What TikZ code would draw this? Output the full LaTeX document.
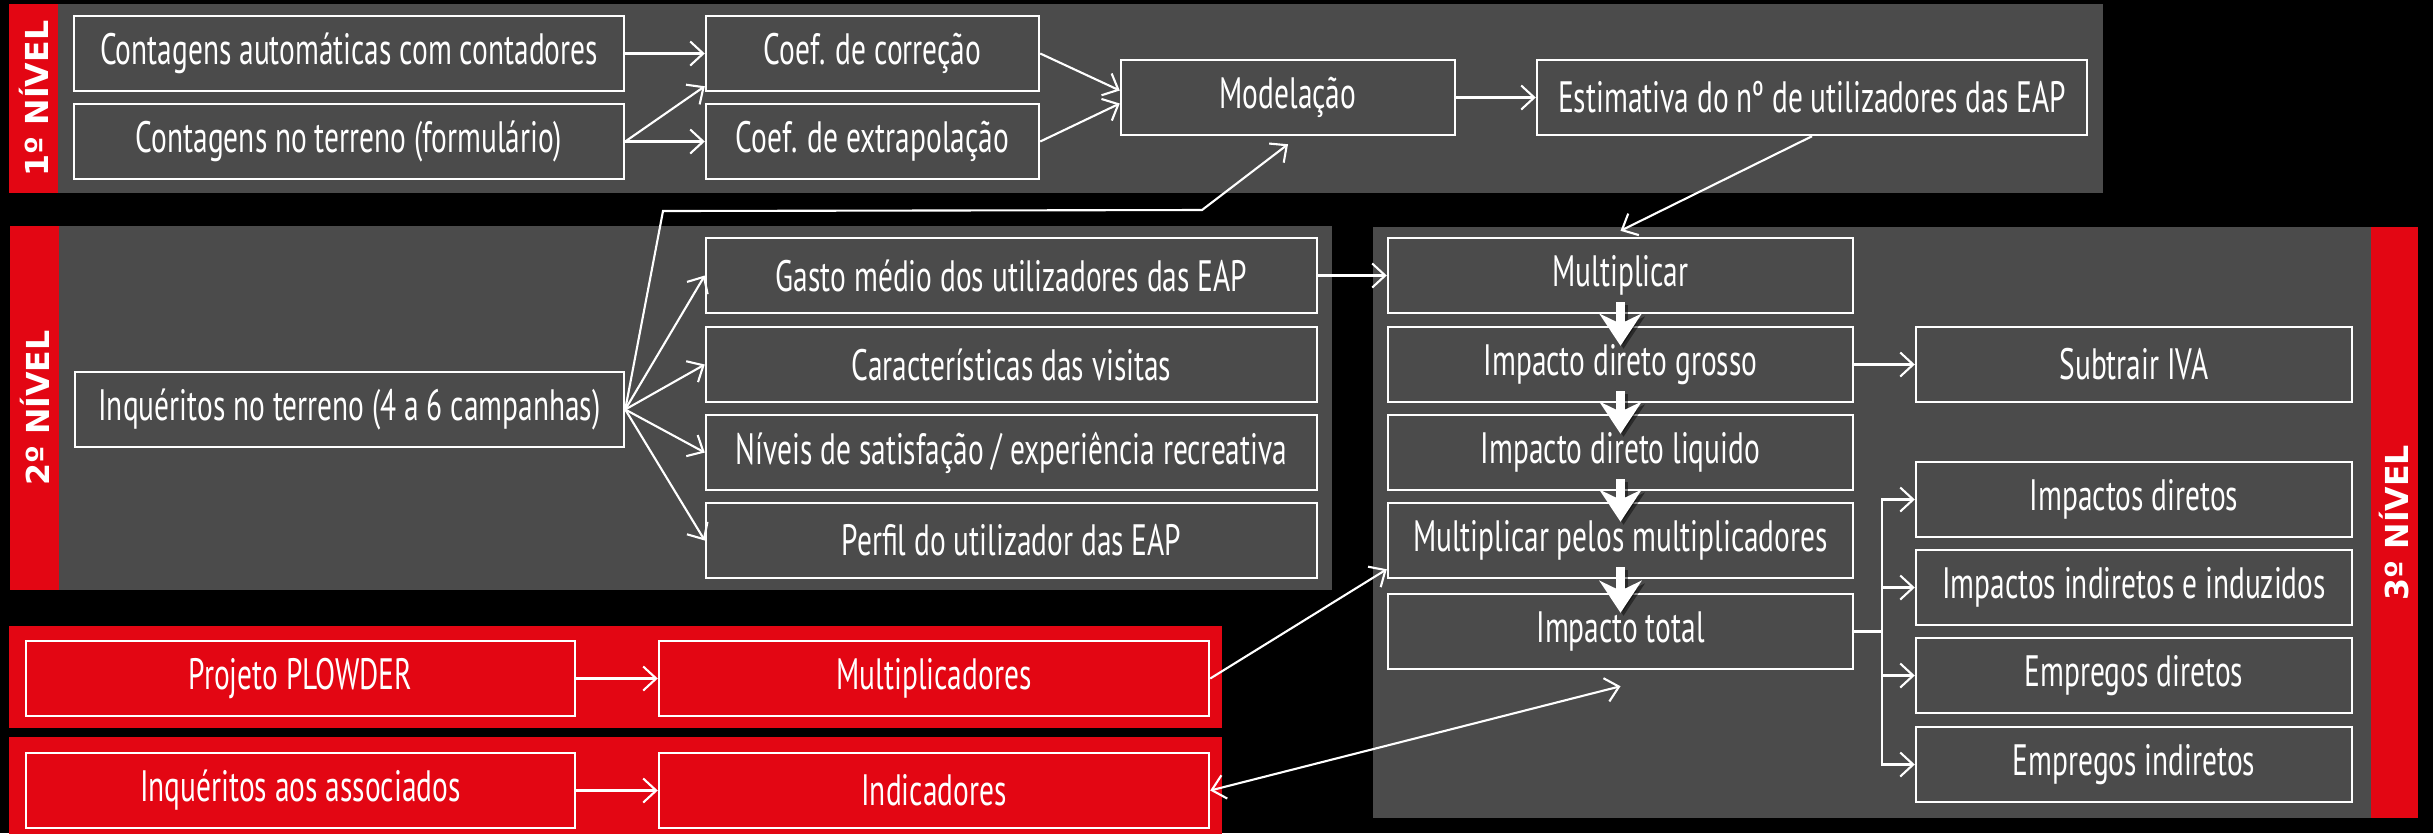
\documentclass[tikz,border=0pt]{standalone}
\usepackage{fontspec}
\setmainfont{PT Sans}[FakeStretch=0.67]
\newfontfamily\levelfont{DejaVu Sans}
\usepackage{tikz}
\usetikzlibrary{calc}
\usetikzlibrary{arrows.meta}

\definecolor{panelgrey}{RGB}{75,75,75}
\definecolor{panelred}{RGB}{227,6,19}

\begin{document}
\begin{tikzpicture}[
        box/.style={
            rectangle,
            draw=white,
            line width=0.7pt,
            text=white,
            minimum height=0.75cm,
            inner sep=0pt,
            font=\fontsize{12.5}{14}\selectfont,
        },
        level/.style={
            text=white,
            rotate=90,
            font=\levelfont\bfseries\fontsize{9}{10}\selectfont,
        },
        link/.style={
            draw=white,
            line width=0.6pt,
        },
        bigarrow/.style={
            draw=white,
            line width=2.3pt,
            -{Stealth[length=3.2mm,width=4.2mm,inset=1mm]},
        },
        >={Straight Barb[length=1.3mm,width=2.4mm]},
    ]

    \fill [black] (0,0) rectangle (24.33,-8.33);
    \useasboundingbox (0,0) rectangle (24.33,-8.33);

    \fill [panelgrey] (0.09,-0.04) rectangle (21.03,-1.93);
    \fill [panelred] (0.09,-0.04) rectangle (0.58,-1.93);
    \fill [panelgrey] (0.10,-2.26) rectangle (13.32,-5.90);
    \fill [panelred] (0.10,-2.26) rectangle (0.59,-5.90);
    \fill [panelgrey] (13.73,-2.27) rectangle (24.18,-8.18);
    \fill [panelred] (23.71,-2.27) rectangle (24.18,-8.18);
    \fill [panelred] (0.09,-6.26) rectangle (12.22,-7.28);
    \fill [panelred] (0.09,-7.37) rectangle (12.22,-8.40);

    \node (lvl1) at (0.335,-0.985) [level] {1º NÍVEL};
    \node (lvl2) at (0.345,-4.08) [level] {2º NÍVEL};
    \node (lvl3) at (23.945,-5.225) [level] {3º NÍVEL};

    \node (cont1) at (3.49,-0.535) [box, minimum width=5.50cm] {Contagens automáticas com contadores};
    \node (cont2) at (3.49,-1.415) [box, minimum width=5.50cm] {Contagens no terreno (formulário)};
    \node (coef1) at (8.725,-0.535) [box, minimum width=3.33cm] {Coef. de correção};
    \node (coef2) at (8.725,-1.415) [box, minimum width=3.33cm] {Coef. de extrapolação};
    \node (model) at (12.88,-0.975) [box, minimum width=3.34cm] {Modelação};
    \node (estim) at (18.12,-0.975) [box, minimum width=5.50cm] {Estimativa do nº de utilizadores das EAP};

    \node (inq) at (3.495,-4.095) [box, minimum width=5.49cm] {Inquéritos no terreno (4 a 6 campanhas)};
    \node (gasto) at (10.115,-2.755) [box, minimum width=6.11cm] {Gasto médio dos utilizadores das EAP};
    \node (carac) at (10.115,-3.645) [box, minimum width=6.11cm] {Características das visitas};
    \node (niveis) at (10.115,-4.525) [box, minimum width=6.11cm] {Níveis de satisfação / experiência recreativa};
    \node (perfil) at (10.115,-5.405) [box, minimum width=6.11cm] {Perfil do utilizador das EAP};

    \node (mult) at (16.205,-2.755) [box, minimum width=4.65cm] {Multiplicar};
    \node (idg) at (16.205,-3.645) [box, minimum width=4.65cm] {Impacto direto grosso};
    \node (idl) at (16.205,-4.525) [box, minimum width=4.65cm] {Impacto direto liquido};
    \node (mpm) at (16.205,-5.405) [box, minimum width=4.65cm] {Multiplicar pelos multiplicadores};
    \node (total) at (16.205,-6.315) [box, minimum width=4.65cm] {Impacto total};
    \node (iva) at (21.34,-3.645) [box, minimum width=4.36cm] {Subtrair IVA};
    \node (impd) at (21.34,-4.995) [box, minimum width=4.36cm] {Impactos diretos};
    \node (impi) at (21.34,-5.875) [box, minimum width=4.36cm] {Impactos indiretos e induzidos};
    \node (empd) at (21.34,-6.755) [box, minimum width=4.36cm] {Empregos diretos};
    \node (empi) at (21.34,-7.645) [box, minimum width=4.36cm] {Empregos indiretos};

    \node (plowder) at (3.005,-6.785) [box, minimum width=5.49cm] {Projeto PLOWDER};
    \node (multip) at (9.34,-6.785) [box, minimum width=5.50cm] {Multiplicadores};
    \node (assoc) at (3.005,-7.905) [box, minimum width=5.49cm] {Inquéritos aos associados};
    \node (indic) at (9.34,-7.905) [box, minimum width=5.50cm] {Indicadores};

    \coordinate (bendA) at (6.63,-2.11);
    \coordinate (bendB) at (12.02,-2.10);
    \coordinate (split) at (18.82,-6.315);

    \draw [link, ->] (cont1) -- (coef1);
    \draw [link, ->] (cont2.east) -- ([yshift=0.06cm]coef1.south west);
    \draw [link, ->] (cont2) -- (coef2);
    \draw [link, ->] (coef1.east) -- ([yshift=0.07cm]model.west);
    \draw [link, ->] (coef2.east) -- ([yshift=-0.06cm]model.west);
    \draw [link, ->] (model) -- (estim);
    \draw [link, ->] (estim.south) -- ([yshift=0.06cm]mult.north);

    \draw [link, ->] (inq.east) -- (gasto.west);
    \draw [link, ->] (inq.east) -- (carac.west);
    \draw [link, ->] (inq.east) -- (niveis.west);
    \draw [link, ->] (inq.east) -- (perfil.west);
    \draw [link, ->] (inq.east) -- (bendA) -- (bendB) -- ([yshift=-0.08cm]model.south);
    \draw [link, ->] (gasto) -- (mult);

    \foreach \a/\b in {mult/idg, idg/idl, idl/mpm, mpm/total} {
        \draw [bigarrow, draw=black, opacity=0.45, transform canvas={shift={(0.03,-0.03)}}]
            ([yshift=0.12cm]\a.south) -- ([yshift=-0.2cm]\b.north);
        \draw [bigarrow] ([yshift=0.12cm]\a.south) -- ([yshift=-0.2cm]\b.north);
    }
    \draw [link, ->] (idg) -- (iva);
    \draw [link] (total.east) -- (split);
    \foreach \t in {impd, impi, empd, empi} {
        \draw [link, ->] (split) |- (\t.west);
    }

    \draw [link, ->] (plowder) -- (multip);
    \draw [link, ->] (assoc) -- (indic);
    \draw [link, ->] (multip.east) -- ([yshift=0.1cm]mpm.south west);
    \draw [link, <->] (indic.east) -- ([yshift=-0.16cm]total.south);

\end{tikzpicture}
\end{document}
